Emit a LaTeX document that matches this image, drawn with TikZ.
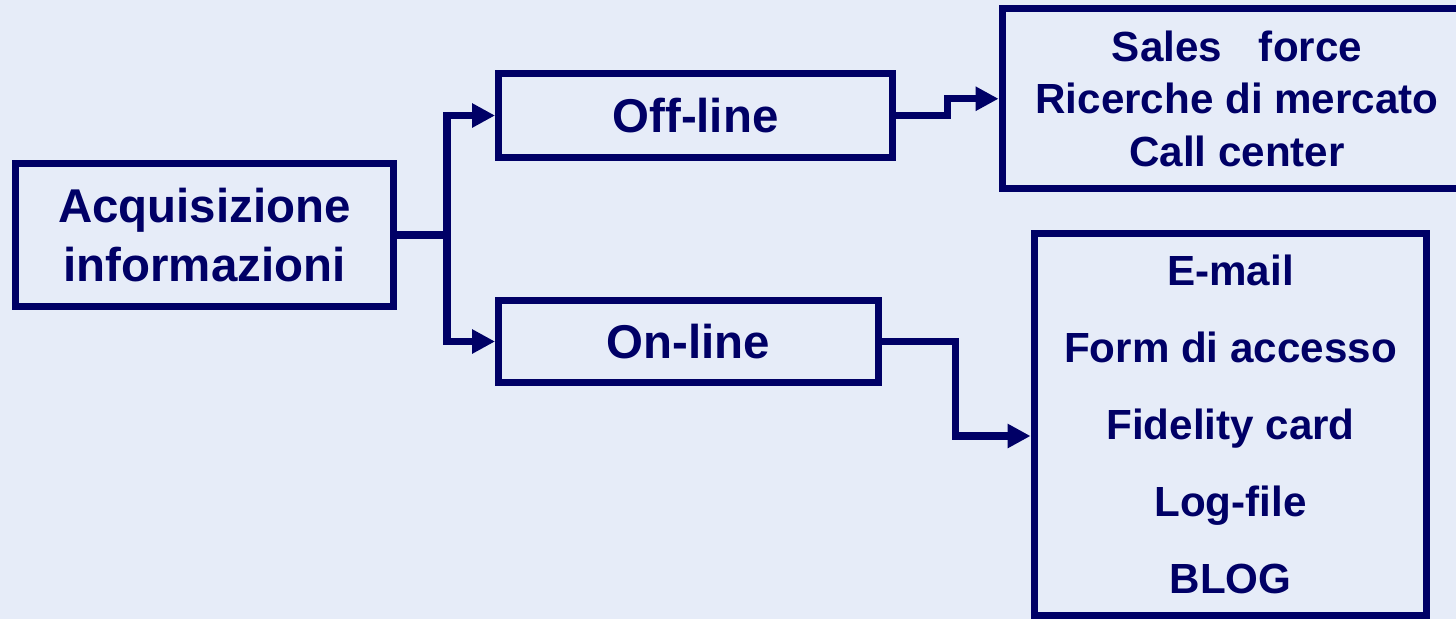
\documentclass[tikz,border=0pt]{standalone}
\usepackage{fontspec}
\setmainfont{Liberation Sans}
\usetikzlibrary{arrows.meta}
\definecolor{navy}{RGB}{0,0,102}
\definecolor{bgblue}{RGB}{230,236,248}
\begin{document}
\begin{tikzpicture}[x=0.02cm,y=-0.02cm,
  box/.style={draw=navy, line width=4pt, inner sep=0pt, text=navy, align=center},
  bigfont/.style={font=\bfseries\fontsize{27}{33.6}\selectfont},
  conn/.style={draw=navy, line width=4pt},
  arr/.style={conn, -{Triangle[length=13pt,width=13pt]}}]
\fill[bgblue] (0,0) rectangle (1456,619);
\useasboundingbox (0,0) rectangle (1456,619);

\node[box, bigfont, minimum width=378*0.569pt, minimum height=143*0.569pt] (acq) at (204.5,235) {Acquisizione\\informazioni};
\node[box, bigfont, minimum width=394*0.569pt, minimum height=84*0.569pt] (off) at (695.5,115.5) {Off-line};
\node[box, bigfont, minimum width=380*0.569pt, minimum height=82*0.569pt] (on) at (688.5,341.5) {On-line};
\node[box, font=\bfseries\fontsize{24}{29.9}\selectfont, minimum width=470*0.569pt, minimum height=180.5*0.569pt] (tr) at (1237,98.75) {Sales\hspace{21pt}force\\Ricerche di mercato\\Call center};
\node[box, font=\bfseries\fontsize{24}{43.8}\selectfont, minimum width=393*0.569pt, minimum height=382.5*0.569pt] (br) at (1230.5,424.25) {E-mail\\Form di accesso\\Fidelity card\\Log-file\\BLOG};

\coordinate (j) at (447,235);
\coordinate (k1) at (947,0);
\coordinate (k2) at (955.5,0);
\coordinate (brin) at (br.west |- 0,436);

\draw[conn] (acq.east) -- (j);
\draw[arr] (j) |- (off.west);
\draw[arr] (j) |- (on.west);
\draw[arr] (off.east) -| (k1 |- tr.west) -- (tr.west);
\draw[arr] (on.east) -| (k2 |- brin) -- (brin);
\end{tikzpicture}
\end{document}
